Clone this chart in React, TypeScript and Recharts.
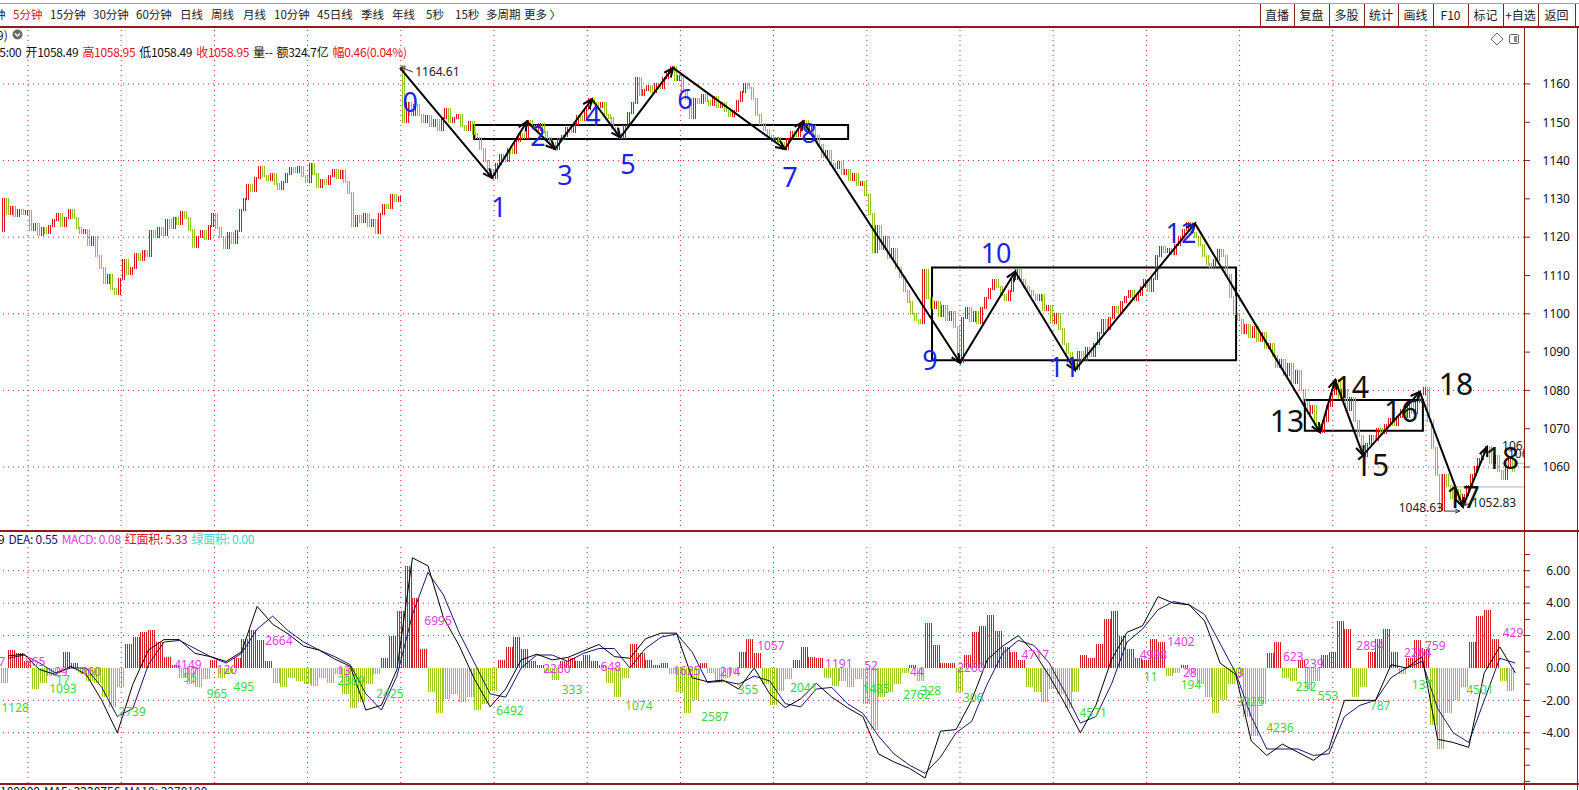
import React from 'react';
import {
  ComposedChart,
  Bar,
  Line,
  Scatter,
  XAxis,
  YAxis,
  ReferenceLine,
  ReferenceArea,
} from 'recharts';

const UP = '#e3111b';
const DOWN = '#94c41c';
const HIST_UP = '#d81a22';
const HIST_DOWN = '#9cc61c';
const GRID = '#b8283c';
const FRAME = '#8c1c1c';
const BLUE = '#1f1fe6';
const MAGENTA = '#e23ee2';
const LGREEN = '#3fd43f';
const UI_FONT = '"Noto Sans CJK SC", "Noto Sans", sans-serif';
const NUM_FONT = '"Noto Sans", "DejaVu Sans", sans-serif';

// plot x range in bar units (bar i is drawn at x = i)
const X_MIN = -0.71;
const X_MAX = 391.74;
const PRICE_MIN = 1043.3;
const PRICE_MAX = 1174.6;
const MACD_MIN = -7.1;
const MACD_MAX = 7.59;

// ---- 10-minute closes, first block (before the gap) ----
const openA = 1121.5;
const dayA0 = [1130, 1126, 1128, 1125.5, 1127, 1126, 1126.8];
const dayA1 = [1122, 1123.5, 1120.5, 1122.5, 1121, 1123, 1124.5, 1126, 1123, 1125, 1127.2, 1125,
  1122.5, 1121, 1122, 1118, 1120, 1115, 1112, 1108, 1110, 1106.5, 1105.2, 1109];
const dayA2 = [1114, 1110.5, 1112, 1115.5, 1114, 1116.5, 1115, 1121.5, 1120, 1122.5, 1120.5, 1124.5,
  1122.5, 1125, 1123.5, 1126.5, 1125, 1122, 1117.5, 1120, 1121.5, 1119.5, 1123, 1126];
const dayA3 = [1122.5, 1120, 1117.2, 1121, 1118.5, 1121.5, 1127, 1130, 1133.5, 1132, 1135.5, 1138.2,
  1136, 1135, 1136.5, 1134, 1132.5, 1134.5, 1136.5, 1138, 1137, 1138.3, 1136, 1134.5];
const dayA4 = [1139, 1136.5, 1133, 1135, 1134, 1136, 1137.5, 1135.5, 1137.3, 1134.5, 1131.5, 1123,
  1125.5, 1124, 1126, 1123, 1124.5, 1121, 1126, 1128.5, 1127.5, 1131, 1129.5, 1130.5];

// ---- second block (opens with a gap up) ----
const openB = 1164.6;
const dayB4 = [1150, 1155, 1152, 1154.5, 1152, 1150, 1151.5, 1149, 1150.5, 1148, 1151, 1153.5,
  1150, 1151, 1152, 1149, 1148, 1150, 1147, 1146, 1143, 1140, 1137.5, 1135.5];
const dayB5 = [1139, 1141.5, 1140, 1143, 1142, 1145, 1147, 1146, 1150.3, 1149, 1148, 1149.5,
  1147.5, 1146, 1144.5, 1143, 1145.5, 1146.5, 1148.5, 1147.5, 1149.5, 1151.5, 1150.5, 1153.5];
const dayB6 = [1156, 1155, 1154, 1155, 1152, 1151, 1148.5, 1147, 1146, 1149, 1152.5, 1155,
  1161.5, 1157, 1158.5, 1159.5, 1158, 1160, 1159, 1161.5, 1163, 1164.3, 1161, 1162];
const dayB7 = [1158, 1156, 1151, 1156, 1155, 1157, 1155.5, 1154.5, 1156.5, 1154, 1155, 1153,
  1151.5, 1153, 1155.5, 1158, 1160, 1159, 1156, 1152, 1149.5, 1148, 1146.5, 1145];
const dayB8 = [1146, 1144.5, 1143, 1145.5, 1147.5, 1146.5, 1149, 1150.2, 1148, 1149, 1146.5, 1144,
  1141, 1142.5, 1139, 1138, 1139.5, 1136.5, 1137.5, 1135, 1136.5, 1133.5, 1134.5, 1131];
const dayB9 = [1126, 1116, 1123, 1117, 1120, 1114.5, 1117, 1112, 1109.5, 1106, 1103, 1100,
  1098.5, 1097.6, 1111.5, 1104, 1101.5, 1103, 1099.5, 1102, 1098.5, 1100.5, 1096.5, 1087.5];
const dayB10 = [1099, 1101.5, 1098, 1100.5, 1097.5, 1101.5, 1104, 1106.5, 1108.8, 1107, 1105, 1103.6,
  1106, 1109, 1111.3, 1108.8, 1107, 1106, 1104.8, 1103.5, 1105, 1101, 1102, 1097.6];
const dayB11 = [1100, 1096, 1092, 1089.8, 1087, 1085.5, 1090, 1088, 1091, 1089, 1092, 1095,
  1098.4, 1096, 1099, 1101.8, 1100.5, 1103, 1104.4, 1106, 1103.6, 1105, 1107, 1108.8];
const dayB12 = [1106, 1109, 1115, 1117.5, 1116, 1117, 1115.5, 1118, 1120, 1122, 1123.7, 1121,
  1120, 1118, 1115, 1113, 1112.3, 1114, 1116.7, 1115, 1110, 1104.4, 1100, 1098.4];
const dayB13 = [1095, 1097, 1094, 1096.5, 1093, 1095, 1091, 1092, 1089, 1086, 1088, 1084,
  1087, 1082, 1085, 1080, 1077, 1074, 1076, 1071, 1069.2, 1072, 1076, 1079];
const dayB14 = [1082.7, 1078, 1080, 1075, 1078, 1072, 1068, 1063, 1066, 1068, 1067, 1070,
  1069, 1071, 1072.5, 1071, 1073, 1075, 1073, 1077, 1074, 1077, 1079, 1080.6];
const dayB15 = [1072, 1065, 1058, 1048.7, 1058, 1055, 1052, 1054, 1050.6, 1052.8, 1055, 1058,
  1060, 1062, 1064, 1065.2, 1061, 1063, 1059, 1057, 1060, 1062, 1058.95];

// ---- MACD histogram, one value every 2 bars ----
const histA = [-0.9, 1.1, 0.9, 0.4, -1.3, -0.9, -0.5, -0.3, 1.0, 0.3, -0.3, -0.8, -0.9, -1.8, -2.4, -1.2,
  1.5, 1.9, 2.2, 2.35, 1.6, 0.7, 0.2, -0.6, -1.0, -1.2, -0.7, 0.5, -0.6, -0.3, 0.6, 1.8,
  2.35, 1.7, 0.4, -0.9, -1.2, -0.6, -0.8, -1.0, -1.1, -0.6, -0.9, -0.4, -1.6, -2.5, -2.1, -1.0,
  -0.4, 0.6, 2.0, 3.5, 6.3, 4.3, 1.2, -1.5, -2.8, -1.9, -1.6, -2.1, -1.8, -2.6, -2.2, -1.4, 0.5];
const histB = [1.3, 1.9, 1.2, 0.4, 0.2, -0.3, -0.75, 0.4, 0.6, 0.4, 0.8, 0.4, 0.2, -0.9, -1.8, -0.6,
  1.45, 0.9, 0.5, 0.2, 0.3, -0.4, -1.5, -2.8, -2.0, 0.3, -0.3, -0.9, -0.6, -0.3, 1.0, 1.8,
  0.9, -1.0, -2.3, -1.4, -0.7, 0.5, 1.3, 0.7, 0.6, -0.6, -1.1, -0.8, -1.2, -0.7, -2.2, -3.8,
  -1.8, -1.5, -1.0, -0.3, 0.2, -0.8, 2.8, 1.4, 0.3, 0.3, -1.5, 0.8, 2.2, 2.6, 3.3, 2.3, 1.3];
const histC = [1.0, 0.5, -1.2, -1.5, -2.1, -1.3, -1.6, -2.5, -1.5, 0.8, 0.6, 1.5, 3.0, 3.5, 2.0, 1.2,
  0.6, 0.5, 1.8, 1.6, -0.5, -0.3, 0.2, -0.4, -1.0, -1.8, -2.8, -2.0, -1.0, -0.5, -3.0, -4.2,
  -2.2, 0.9, 1.6, -0.6, -0.8, 0.5, -1.3, -0.8, 0.8, 1.0, 2.9, 2.4, -1.8, -1.2, 1.0, 1.8,
  2.4, 1.0, -0.4, 0.6, 1.7, 1.2, -3.5, -5.0, -2.8, -2.0, -1.2, 1.6, 3.2, 3.6, 1.8, -0.8, -1.4];

// ---- DIF / DEA, one value every 4 bars ----
const difValues = [0.75, 0.85, -0.1, -0.4, 0.1, -0.4, -2.0, -4.0, -1.0, 1.1,
  1.75, 1.75, 0.9, 0.7, 0.4, 1.0, 3.8, 2.7, 2.1, 1.35,
  1.1, 0.55, 0.1, -2.6, -2.3, -0.1, 6.8, 6.3, 3.1, 1.4,
  -0.7, -2.4, -1.3, 0.5, 0.85, 0.5, 0.65, 1.05, 1.45, 0.7,
  0.6, 1.8, 2.15, 2.15, -0.6, -0.85, -0.75, -1.3, 0.0, -1.6,
  -2.45, -1.9, -0.95, -1.8, -2.45, -3.0, -5.3, -5.8, -6.2, -6.8,
  -3.9, -3.8, -2.0, 0.5, 1.35, 2.0, 1.0, -0.5, -2.2, -4.0,
  -2.3, 0.5, 2.2, 2.6, 4.4, 4.0, 3.9, 2.9, 0.3, -0.4,
  -4.5, -5.4, -4.7, -5.2, -5.7, -5.0, -2.0, -2.0, -2.0, 0.2,
  0.0, 0.7, -4.4, -4.6, -4.9, -0.3, 1.3, -0.3];
const deaValues = [0.6, 0.8, 0.3, -0.3, 0.0, 0.0, -1.2, -3.0, -2.5, 0.2,
  1.6, 1.7, 1.2, 0.7, 0.3, 0.9, 2.4, 3.2, 2.3, 1.6,
  1.1, 0.7, 0.2, -1.6, -2.6, -0.5, 3.3, 5.9, 4.5, 2.2,
  0.3, -1.6, -1.8, 0.0, 0.8, 0.8, 0.4, 0.9, 1.2, 1.2,
  0.0, 1.2, 1.9, 2.1, 1.0, -0.9, -0.8, -1.0, -0.5, -0.8,
  -2.2, -2.4, -1.3, -1.2, -2.2, -2.8, -4.2, -5.3, -6.0, -6.5,
  -5.5, -4.0, -3.3, -1.0, 0.9, 1.7, 1.4, 0.3, -1.5, -3.4,
  -3.0, -1.0, 1.6, 2.4, 3.6, 4.1, 3.9, 3.3, 1.5, -0.3,
  -3.0, -5.0, -5.0, -5.0, -5.4, -5.3, -3.0, -2.3, -2.0, -0.6,
  0.0, 0.4, -2.5, -4.0, -4.6, -2.0, 0.6, 0.3];

// ---- hand-drawn wave (bar position, price) ----
const waveX = [102.3, 126.0, 135.0, 142.2, 151.7, 159.0, 172.6, 201.4, 206.1, 246.5,
  260.7, 276.1, 307.0, 339.2, 343.1, 350.3, 364.9, 376.0, 382.2];
const waveY = [1164.2, 1135.5, 1150.2, 1143.0, 1156.0, 1146.0, 1164.2, 1143.0, 1150.2, 1087.2,
  1111.0, 1085.3, 1123.6, 1069.1, 1082.7, 1063.1, 1079.6, 1049.6, 1065.2];
const waveLabel = ['0', '1', '2', '3', '4', '5', '6', '7', '8', '9', '10', '11', '12',
  '13', '14', '15', '16', '18', '17', '18'];
const waveLabelX = [104.9, 127.8, 137.8, 144.8, 152.0, 161.0, 175.7, 202.7, 207.6, 238.8,
  255.8, 273.3, 303.4, 330.7, 347.4, 352.6, 360.1, 374.2, 376.0, 386.1];
const waveLabelY = [1155.3, 1127.9, 1146.4, 1136.2, 1151.6, 1138.9, 1156.1, 1135.7, 1147.2, 1087.9,
  1115.9, 1086.1, 1121.1, 1072.0, 1080.9, 1060.5, 1074.6, 1081.7, 1052.2, 1062.3];

// boxes: [x1, x2, low, high]
const boxes = [
  [121.4, 217.7, 1145.6, 1149.3],
  [239.3, 317.6, 1087.9, 1112.1],
  [335.3, 365.7, 1069.5, 1077.5],
];

// price notes
const noteText = ['1164.61', '1048.63', '1052.83', '1062', '106'];
const noteX = [106.2, 370.9, 378.3, 386.1, 387.6];
const noteY = [1163.1, 1049.3, 1050.6, 1065.5, 1063.4];
const noteAnchor = ['start', 'end', 'start', 'start', 'start'];

// MACD area labels
const areaText = ['7', '865', '1128', '29', '17', '1093', '460', '2739', '4149', '17', '55', '965', '120', '495',
  '2664', '13', '2369', '2425', '6995', '6492', '2260', '333', '648', '1074', '1625', '2587', '214', '1057',
  '355', '2041', '1191', '52', '1485', '44', '2762', '328', '2260', '306', '4717', '4571', '4998', '11',
  '1402', '28', '194', '3', '3325', '4236', '623', '239', '232', '553', '2894', '787', '2264', '759', '137',
  '4501', '429'];
const areaX = [-0.2, 8.3, 3.2, 15.0, 15.5, 15.5, 22.7, 33.3, 47.7, 48.5, 48.2, 55.2, 57.7, 62.1,
  71.1, 87.9, 89.7, 99.7, 112.1, 130.6, 142.7, 146.6, 156.6, 163.8, 176.2, 183.4, 187.3, 197.8,
  191.9, 206.3, 215.3, 223.6, 224.9, 235.4, 235.4, 239.0, 249.3, 249.9, 265.9, 280.8, 296.3, 295.6,
  303.4, 305.7, 306.0, 318.6, 321.2, 328.9, 332.3, 337.5, 335.6, 341.3, 352.1, 354.7, 364.4, 368.9, 365.5,
  380.4, 388.9];
const areaY = [0.37, 0.37, -2.47, -0.25, -0.74, -1.3, -0.25, -2.72, 0.19, -0.25, -0.62, -1.6, -0.12, -1.17,
  1.67, -0.19, -0.8, -1.6, 2.9, -2.65, -0.06, -1.36, 0.06, -2.35, -0.19, -3.02, -0.25, 1.36,
  -1.36, -1.23, 0.25, 0.12, -1.3, -0.25, -1.67, -1.42, 0.0, -1.85, 0.8, -2.78, 0.8, -0.56,
  1.6, -0.31, -1.05, -0.31, -2.1, -3.7, 0.68, 0.25, -1.17, -1.73, 1.36, -2.35, 0.93, 1.36, -1.05,
  -1.36, 2.16];
const areaPositive = [1, 1, 0, 1, 0, 0, 1, 0, 1, 1, 0, 0, 1, 0,
  1, 1, 0, 0, 1, 0, 1, 0, 1, 0, 1, 0, 1, 1,
  0, 0, 1, 1, 0, 1, 0, 0, 1, 0, 1, 0, 1, 0,
  1, 1, 0, 1, 0, 0, 1, 1, 0, 0, 1, 0, 1, 1, 0,
  0, 1];

const priceTicks = [1060, 1070, 1080, 1090, 1100, 1110, 1120, 1130, 1140, 1150, 1160];
const priceGrid = [1060, 1080, 1100, 1120, 1140, 1160];
const macdTicks = [-7, -6, -5, -4, -3, -2, -1, 0, 1, 2, 3, 4, 5, 6, 7];
const macdGrid = [-4, -2, 2, 4, 6];
const dayLines = Array.from({ length: 16 }, (_, k) => 6.5 + 24 * k);

const buildBars = () => {
  const rows: any[] = [];
  let i = 0;
  const push = (open: number, closes: number[]) => {
    let prev = open;
    closes.forEach((c) => {
      rows.push({ x: i, r: [Math.min(prev, c), Math.max(prev, c)], up: c >= prev });
      prev = c;
      i += 1;
    });
  };
  push(openA, [...dayA0, ...dayA1, ...dayA2, ...dayA3, ...dayA4]);
  push(openB, [...dayB4, ...dayB5, ...dayB6, ...dayB7, ...dayB8, ...dayB9, ...dayB10,
    ...dayB11, ...dayB12, ...dayB13, ...dayB14, ...dayB15]);
  return rows;
};

const barRows = buildBars();
const histRows = [...histA, ...histB, ...histC].map((h, j) => ({ x: 2 * j + 0.5, h }));
const difRows = difValues.map((v, m) => ({ x: 4 * m + 1.5, v }));
const deaRows = deaValues.map((v, m) => ({ x: 4 * m + 1.5, v }));
const waveTextRows = waveLabel.map((t, k) => ({
  x: waveLabelX[k], y: waveLabelY[k], t, c: k < 13 ? BLUE : '#111', s: k < 13 ? 27 : 30,
}));
const noteRows = noteText.map((t, k) => ({
  x: noteX[k], y: noteY[k], t, c: '#222', s: 12, a: noteAnchor[k],
}));
const areaRows = areaText.map((t, k) => ({
  x: areaX[k], y: areaY[k], t, c: areaPositive[k] ? MAGENTA : LGREEN, s: 12,
}));

// each value is drawn as fine 1px stripes around the centre the library computes
const stripeShape = (offsets: number[], pad: number, pick: (row: any) => string) => (p: any) => {
  const { x, y, width, height, payload } = p;
  if (x == null || y == null || Number.isNaN(x) || Number.isNaN(y)) return <g />;
  const cx = Math.round(x + (width || 0) / 2);
  const h = height || 0;
  const top = Math.min(y, y + h) - pad;
  const hh = Math.max(Math.abs(h) + 2 * pad, 1);
  const fill = pick(payload);
  return (
    <g>
      {offsets.map((o) => (
        <rect key={o} x={cx + o} y={top} width={1} height={hh} fill={fill} shapeRendering="crispEdges" />
      ))}
    </g>
  );
};

const candleShape = stripeShape([-1, 1], 1.0, (row) => (row.up ? UP : DOWN));
const histShape = stripeShape([-4, -2, 0, 2], 0, (row) => (row.h >= 0 ? HIST_UP : HIST_DOWN));

const arrowShape = (width: number, head: number, color: string) => (p: any) => {
  const { x1, y1, x2, y2 } = p;
  if ([x1, y1, x2, y2].some((v) => v == null || Number.isNaN(v))) return <g />;
  const a = Math.atan2(y2 - y1, x2 - x1);
  const s = 0.42;
  const hx1 = x2 - head * Math.cos(a - s);
  const hy1 = y2 - head * Math.sin(a - s);
  const hx2 = x2 - head * Math.cos(a + s);
  const hy2 = y2 - head * Math.sin(a + s);
  return (
    <g>
      <line x1={x1} y1={y1} x2={x2} y2={y2} stroke={color} strokeWidth={width} />
      <path d={`M${hx1},${hy1}L${x2},${y2}L${hx2},${hy2}`} fill="none" stroke={color} strokeWidth={width} />
    </g>
  );
};

const textShape = (family: string) => (p: any) => (
  <text
    x={p.cx}
    y={p.cy}
    dy="0.36em"
    textAnchor={p.payload.a || 'middle'}
    fontSize={p.payload.s}
    fill={p.payload.c}
    fontFamily={family}
  >
    {p.payload.t}
  </text>
);

const PriceTick = (p: any) => (
  <text x={p.x + 38} y={p.y} dy="0.36em" textAnchor="end" fontSize={12} fill="#111" fontFamily={NUM_FONT}>
    {p.payload.value}
  </text>
);

const MacdTick = (p: any) => {
  const v = p.payload.value;
  if (v % 2 !== 0 || v < -4 || v > 6) return <g />;
  return (
    <text x={p.x + 38} y={p.y} dy="0.36em" textAnchor="end" fontSize={12} fill="#111" fontFamily={NUM_FONT}>
      {v.toFixed(2)}
    </text>
  );
};

const toolbarItems: [string, number, string][] = [
  ['钟', -6, '#222'], ['5分钟', 13, '#d4141c'], ['15分钟', 50, '#222'], ['30分钟', 93, '#222'],
  ['60分钟', 136, '#222'], ['日线', 180, '#222'], ['周线', 211, '#222'], ['月线', 243, '#222'],
  ['10分钟', 274, '#222'], ['45日线', 317, '#222'], ['季线', 361, '#222'], ['年线', 392, '#222'],
  ['5秒', 426, '#222'], ['15秒', 455, '#222'], ['多周期', 486, '#222'], ['更多 〉', 524, '#222'],
];
const buttonEdges = [1260, 1294, 1329, 1364, 1398, 1433, 1468, 1503, 1538, 1575];
const buttonLabels = ['直播', '复盘', '多股', '统计', '画线', 'F10', '标记', '+自选', '返回'];
const infoItems: [string, string][] = [
  ['15:00', '#111'], ['开1058.49', '#111'], ['高1058.95', '#e0141e'], ['低1058.49', '#111'],
  ['收1058.95', '#e0141e'], ['量--', '#111'], ['额324.7亿', '#111'], ['幅0.46(0.04%)', '#e0141e'],
];
const macdHeader: [string, string][] = [
  ['9', '#111'], ['DEA: 0.55', '#14146e'], ['MACD: 0.08', '#e23ee2'],
  ['红面积: 5.33', '#e0141e'], ['绿面积: 0.00', '#3cd6d6'],
];
const footerItems: [string, string][] = [
  ['100000', '#111'], ['MA5: 2220756', '#111'], ['MA10: 2270100', '#14146e'],
];

const abs = (left: number, top: number, extra: React.CSSProperties = {}): React.CSSProperties => ({
  position: 'absolute', left, top, ...extra,
});

const rowStyle = (left: number, top: number): React.CSSProperties => abs(left, top, {
  display: 'flex', gap: 4, fontSize: 12, lineHeight: '16px', whiteSpace: 'nowrap', letterSpacing: -0.3,
});

const Header = () => (
  <>
    <div style={abs(0, 3, { width: 1579, height: 1, background: '#a0a0a0' })} />
    {toolbarItems.map(([t, x, c]) => (
      <span key={t} style={abs(x, 6, { fontSize: 11.5, color: c, whiteSpace: 'nowrap', lineHeight: '17px' })}>{t}</span>
    ))}
    {buttonEdges.map((x) => (
      <div key={x} style={abs(x, 4, { width: 1, height: 23, background: FRAME })} />
    ))}
    {buttonLabels.map((t, k) => (
      <span
        key={t}
        style={abs(buttonEdges[k], 6, {
          width: buttonEdges[k + 1] - buttonEdges[k], textAlign: 'center', fontSize: 12, color: '#222', lineHeight: '17px',
        })}
      >
        {t}
      </span>
    ))}
    <div style={abs(0, 26, { width: 1579, height: 2, background: FRAME })} />
    <span style={abs(-3, 27, { fontSize: 12, color: '#222', lineHeight: '15px' })}>9)</span>
    <svg style={abs(12, 29)} width={11} height={11}>
      <circle cx={5.5} cy={5.5} r={5} fill="#6a6a6a" />
      <path d="M3,4.5 L5.5,7 L8,4.5" stroke="#fff" strokeWidth={1.3} fill="none" />
    </svg>
    <div style={rowStyle(-7, 44)}>
      {infoItems.map(([t, c]) => (
        <span key={t} style={{ color: c }}>{t}</span>
      ))}
    </div>
    <svg style={abs(1490, 32)} width={30} height={14}>
      <path d="M7,1 L13,7 L7,13 L1,7 Z" fill="none" stroke="#666" strokeWidth={1} />
      <rect x={19.5} y={2.5} width={9} height={9} rx={1.5} fill="none" stroke="#666" />
      <rect x={24} y={4} width={3} height={6} fill="#888" />
    </svg>
  </>
);

const App: React.FC = () => (
  <div style={{ position: 'relative', width: 1579, height: 790, overflow: 'hidden', background: '#fff', fontFamily: UI_FONT }}>
    <style>{'body{margin:0}'}</style>
    <Header />

    <div style={abs(0, 28)}>
      <ComposedChart width={1579} height={503} data={barRows} margin={{ top: 0, right: 0, bottom: 0, left: 0 }}>
        <XAxis type="number" dataKey="x" domain={[X_MIN, X_MAX]} allowDataOverflow hide />
        <YAxis
          orientation="right"
          width={55}
          domain={[PRICE_MIN, PRICE_MAX]}
          allowDataOverflow
          ticks={priceTicks}
          axisLine={false}
          tickLine={{ stroke: FRAME }}
          tickSize={6}
          tick={<PriceTick />}
          interval={0}
        />
        {priceGrid.map((y) => (
          <ReferenceLine key={`py${y}`} y={y} stroke={GRID} strokeDasharray="1 4" />
        ))}
        {dayLines.map((x) => (
          <ReferenceLine key={`px${x}`} x={x} stroke={GRID} strokeDasharray="1 4" />
        ))}
        <Bar dataKey="r" barSize={3} isAnimationActive={false} shape={candleShape} />
        {boxes.map(([x1, x2, y1, y2]) => (
          <ReferenceArea key={`b${x1}`} x1={x1} x2={x2} y1={y1} y2={y2} fill="none" fillOpacity={0} stroke="#000" strokeWidth={2} />
        ))}
        {waveX.slice(1).map((x, k) => (
          <ReferenceLine
            key={`w${k}`}
            segment={[{ x: waveX[k], y: waveY[k] }, { x, y: waveY[k + 1] }]}
            shape={arrowShape(2, 10, '#000')}
          />
        ))}
        <ReferenceLine segment={[{ x: 105.6, y: 1163.1 }, { x: 102.5, y: 1164.4 }]} shape={arrowShape(1, 5, '#333')} />
        <ReferenceLine segment={[{ x: 371.1, y: 1048.5 }, { x: 375.2, y: 1048.5 }]} shape={arrowShape(1, 5, '#333')} />
        <ReferenceLine segment={[{ x: 378.1, y: 1050.3 }, { x: 376.0, y: 1050.3 }]} shape={arrowShape(1, 4, '#333')} />
        <ReferenceLine segment={[{ x: 374.0, y: 1054.8 }, { x: 391.7, y: 1054.8 }]} stroke="#b0b0b0" />
        <ReferenceLine segment={[{ x: 386.0, y: 1061.0 }, { x: 391.7, y: 1061.0 }]} stroke="#b0b0b0" />
        <Scatter data={noteRows} dataKey="y" isAnimationActive={false} shape={textShape(NUM_FONT)} />
        <Scatter data={waveTextRows} dataKey="y" isAnimationActive={false} shape={textShape(NUM_FONT)} />
      </ComposedChart>
    </div>

    <div style={abs(0, 530, { width: 1579, height: 2, background: FRAME })} />
    <div style={rowStyle(-2, 531)}>
      {macdHeader.map(([t, c]) => (
        <span key={t} style={{ color: c }}>{t}</span>
      ))}
    </div>

    <div style={abs(0, 545)}>
      <ComposedChart width={1579} height={238} data={histRows} margin={{ top: 0, right: 0, bottom: 0, left: 0 }}>
        <XAxis type="number" dataKey="x" domain={[X_MIN, X_MAX]} allowDataOverflow hide />
        <YAxis
          orientation="right"
          width={55}
          domain={[MACD_MIN, MACD_MAX]}
          allowDataOverflow
          ticks={macdTicks}
          axisLine={false}
          tickLine={{ stroke: FRAME }}
          tickSize={6}
          tick={<MacdTick />}
          interval={0}
        />
        {macdGrid.map((y) => (
          <ReferenceLine key={`my${y}`} y={y} stroke={GRID} strokeDasharray="1 4" />
        ))}
        {dayLines.map((x) => (
          <ReferenceLine key={`mx${x}`} x={x} stroke={GRID} strokeDasharray="1 4" />
        ))}
        <Bar dataKey="h" barSize={6} isAnimationActive={false} shape={histShape} />
        <Line data={deaRows} dataKey="v" stroke="#141470" strokeWidth={1} dot={false} isAnimationActive={false} />
        <Line data={difRows} dataKey="v" stroke="#000" strokeWidth={1} dot={false} isAnimationActive={false} />
        <Scatter data={areaRows} dataKey="y" isAnimationActive={false} shape={textShape(NUM_FONT)} />
      </ComposedChart>
    </div>

    <div style={abs(0, 783, { width: 1579, height: 2, background: FRAME })} />
    <div style={abs(0, 784, { display: 'flex', gap: 4, fontSize: 12, lineHeight: '14px', whiteSpace: 'nowrap' })}>
      {footerItems.map(([t, c]) => (
        <span key={t} style={{ color: c }}>{t}</span>
      ))}
    </div>

    <div style={abs(1524, 28, { width: 1, height: 762, background: FRAME })} />
    <div style={abs(1577, 28, { width: 1, height: 762, background: FRAME })} />
  </div>
);

export default App;
